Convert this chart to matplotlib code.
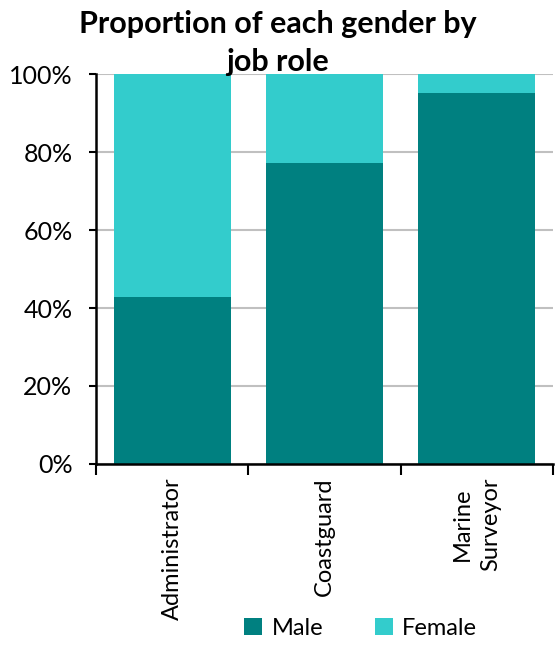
import numpy as np
import matplotlib.pyplot as plt
from matplotlib.ticker import PercentFormatter

plt.rcParams['font.family'] = ['Lato', 'DejaVu Sans']

roles = ['Administrator', 'Coastguard', 'Marine\nSurveyor']
male = [42.8, 77.3, 95.1]
female = [100 - m for m in male]

male_col = '#008080'
female_col = '#33CCCC'

fig = plt.figure(figsize=(5.55, 6.57), dpi=100)
ax = fig.add_axes([0.173, 0.294, 0.823, 0.593])

x = np.arange(len(roles))
ax.bar(x, male, width=0.77, color=male_col, label='Male', zorder=2)
ax.bar(x, female, width=0.77, bottom=male, color=female_col, label='Female', zorder=2)

ax.set_xlim(-0.5, 2.5)
ax.set_ylim(0, 100)
ax.set_yticks(np.arange(0, 101, 20))
ax.yaxis.set_major_formatter(PercentFormatter(decimals=0))
ax.grid(axis='y', color='#c0c0c0', linewidth=1.5, zorder=0)

ax.set_xticks(x)
ax.set_xticklabels(roles, rotation=90, fontsize=17, linespacing=1.4)
ax.set_xticks(np.arange(-0.5, 3, 1), minor=True)
ax.tick_params(axis='x', which='major', length=0, pad=10)
ax.tick_params(axis='x', which='minor', length=8, width=1.5)
ax.tick_params(axis='y', labelsize=18, length=5, width=1.5, pad=12)

for s in ['top', 'right']:
    ax.spines[s].set_visible(False)
for s in ['left', 'bottom']:
    ax.spines[s].set_linewidth(1.8)

fig.text(0.5, 1 - 10 / 657, 'Proportion of each gender by\njob role', fontsize=22,
         fontweight='bold', ha='center', va='top', linespacing=1.45, zorder=5)

fig.legend(loc='lower center', bbox_to_anchor=(0.65, -0.005), ncol=2, frameon=False,
           fontsize=17, handlelength=0.75, handleheight=0.75, handletextpad=0.4,
           columnspacing=2.2)

fig.savefig('out.png', dpi=100)
